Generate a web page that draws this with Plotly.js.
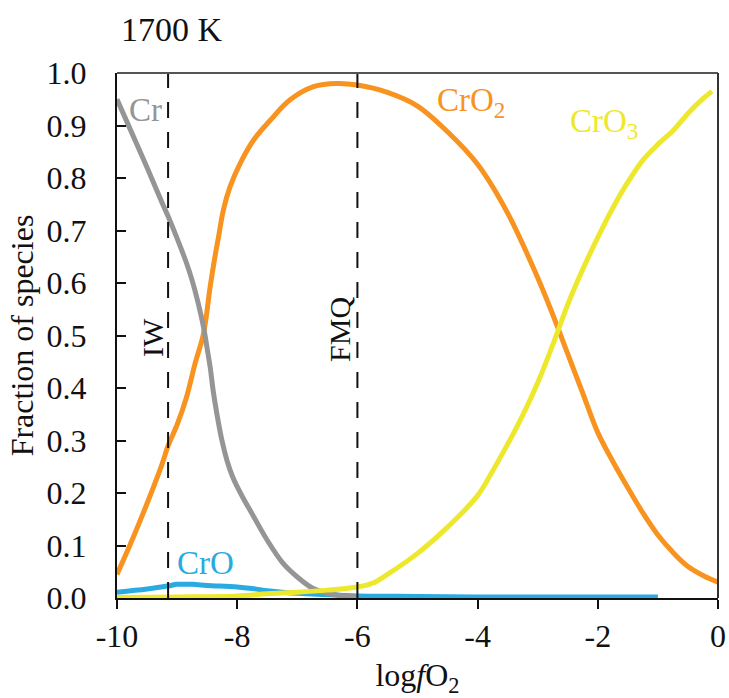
<!DOCTYPE html>
<html>
<head>
<meta charset="utf-8">
<script src="https://cdn.plot.ly/plotly-3.0.1.min.js"></script>
<style>html,body{margin:0;padding:0;background:#fff;}#chart{width:729px;height:698px;}</style>
</head>
<body>
<div id="chart"></div>
<script>
// ---- data ----
const xCr = [-10,-9.75,-9.5,-9.25,-9.15,-9.0,-8.85,-8.75,-8.65,-8.55,-8.5,-8.45,-8.4,-8.34,-8.25,-8.17,-8.08,-8.0,-7.9,-7.75,-7.5,-7.25,-7.0,-6.75,-6.5,-6.25,-6.0];
const yCr = [0.95,0.885,0.82,0.753,0.727,0.685,0.64,0.605,0.562,0.51,0.475,0.44,0.395,0.352,0.298,0.262,0.232,0.212,0.19,0.16,0.11,0.068,0.04,0.019,0.009,0.004,0.002];

const xCrO = [-10,-9.5,-9.15,-9.0,-8.75,-8.5,-8.0,-7.75,-7.5,-7.25,-7.0,-6.5,-6.0,-5.0,-4.0,-3.0,-2.0,-1.0];
const yCrO = [0.011,0.017,0.023,0.026,0.026,0.024,0.021,0.018,0.014,0.011,0.009,0.006,0.004,0.003,0.002,0.002,0.002,0.002];

const xCrO2 = [-10,-9.75,-9.5,-9.25,-9.15,-9.0,-8.85,-8.7,-8.56,-8.45,-8.37,-8.31,-8.23,-8.12,-7.95,-7.73,-7.45,-7.12,-6.73,-6.34,-6.0,-5.5,-5.0,-4.5,-4.0,-3.5,-3.0,-2.75,-2.5,-2.25,-2.0,-1.75,-1.5,-1.25,-1.0,-0.75,-0.5,-0.25,0];
const yCrO2 = [0.045,0.11,0.18,0.255,0.29,0.33,0.38,0.447,0.504,0.593,0.65,0.688,0.739,0.783,0.828,0.872,0.91,0.949,0.974,0.98,0.977,0.963,0.937,0.888,0.826,0.733,0.61,0.54,0.465,0.39,0.315,0.26,0.21,0.162,0.12,0.087,0.06,0.043,0.03];

const xCrO3 = [-10,-9,-8,-7.5,-7,-6.5,-6,-5.75,-5.5,-5,-4.5,-4,-3.75,-3.5,-3.25,-3,-2.75,-2.5,-2.25,-2,-1.75,-1.5,-1.25,-1,-0.75,-0.5,-0.25,-0.1];
const yCrO3 = [0.001,0.002,0.004,0.008,0.011,0.015,0.021,0.028,0.045,0.085,0.135,0.195,0.242,0.293,0.348,0.41,0.482,0.559,0.626,0.687,0.743,0.792,0.834,0.864,0.89,0.923,0.951,0.965];

const bufferNames = ['IW','FMQ'];
const bufferX = [-9.15, -6.0];

const xTickVals = [-10,-8,-6,-4,-2,0];
const xTickText = ['-10','-8','-6','-4','-2','0'];
const tempLabel = '1700 K';

// ---- style ----
const FONT = 'Liberation Serif, Times New Roman, serif';
const C_GRAY = '#959595', C_BLUE = '#29ABE2', C_ORANGE = '#F7931E', C_YELLOW = '#EEE82C';

function line(x, y, color, name) {
  return {x: x, y: y, type: 'scatter', mode: 'lines', name: name,
          line: {color: color, width: 5, shape: 'spline', smoothing: 1.0},
          hoverinfo: 'x+y+name'};
}

const data = [
  line(xCrO, yCrO, C_BLUE, 'CrO'),
  line(xCrO2, yCrO2, C_ORANGE, 'CrO2'),
  line(xCr, yCr, C_GRAY, 'Cr'),
  line(xCrO3, yCrO3, C_YELLOW, 'CrO3')
];

const shapes = bufferX.map(function (bx) {
  return {type: 'line', xref: 'x', yref: 'paper', x0: bx, x1: bx, y0: 0, y1: 1,
          line: {color: '#111', width: 2, dash: '16px,14px'}, layer: 'above'};
});
shapes.push({type: 'line', xref: 'paper', yref: 'paper', x0: 0, x1: 1, y0: 1, y1: 1,
             line: {color: '#555', width: 2}});
shapes.push({type: 'line', xref: 'paper', yref: 'paper', x0: 1, x1: 1, y0: 0, y1: 1,
             line: {color: '#333', width: 2}});

const annotations = [
  {text: 'Cr', x: -9.53, y: 0.93, xref: 'x', yref: 'y', showarrow: false,
   font: {family: FONT, size: 33, color: C_GRAY}},
  {text: 'CrO', x: -8.52, y: 0.067, xref: 'x', yref: 'y', showarrow: false,
   font: {family: FONT, size: 33, color: C_BLUE}},
  {text: 'CrO<sub>2</sub>', x: -4.11, y: 0.943, xref: 'x', yref: 'y', showarrow: false,
   font: {family: FONT, size: 33, color: C_ORANGE}},
  {text: 'CrO<sub>3</sub>', x: -1.90, y: 0.904, xref: 'x', yref: 'y', showarrow: false,
   font: {family: FONT, size: 33, color: C_YELLOW}},
  {text: bufferNames[0], x: -9.42, y: 0.497, xref: 'x', yref: 'y', showarrow: false, textangle: -90,
   font: {family: FONT, size: 30, color: '#111'}},
  {text: bufferNames[1], x: -6.31, y: 0.512, xref: 'x', yref: 'y', showarrow: false, textangle: -90,
   font: {family: FONT, size: 30, color: '#111'}},
  {text: tempLabel, x: 0.003, y: 1.083, xref: 'paper', yref: 'paper', xanchor: 'left', yanchor: 'middle',
   showarrow: false, font: {family: FONT, size: 34, color: '#111'}}
];

const layout = {
  width: 729, height: 698,
  margin: {l: 117, r: 11, t: 73, b: 100},
  paper_bgcolor: '#fff', plot_bgcolor: '#fff',
  showlegend: false,
  font: {family: FONT, color: '#111'},
  xaxis: {
    range: [-10, 0], tickvals: xTickVals, ticktext: xTickText,
    ticks: 'outside', ticklen: 9, tickwidth: 2, tickcolor: '#111',
    showline: true, linecolor: '#111', linewidth: 2, mirror: false,
    showgrid: false, zeroline: false, layer: 'below traces',
    tickfont: {family: FONT, size: 32, color: '#111'},
    title: {text: 'log<i>f</i>O<sub>2</sub>', font: {family: FONT, size: 32, color: '#111'}, standoff: 14}
  },
  yaxis: {
    range: [0, 1], tick0: 0, dtick: 0.1, tickformat: '.1f',
    ticks: 'inside', ticklen: 9, tickwidth: 2, tickcolor: '#111',
    showline: true, linecolor: '#111', linewidth: 2, mirror: false,
    showgrid: false, zeroline: false, ticklabelstandoff: 22,
    tickfont: {family: FONT, size: 32, color: '#111'},
    title: {text: 'Fraction of species', font: {family: FONT, size: 32, color: '#111'}, standoff: 3}
  },
  shapes: shapes,
  annotations: annotations
};

Plotly.newPlot('chart', data, layout, {staticPlot: true, displayModeBar: false});
</script>
</body>
</html>
